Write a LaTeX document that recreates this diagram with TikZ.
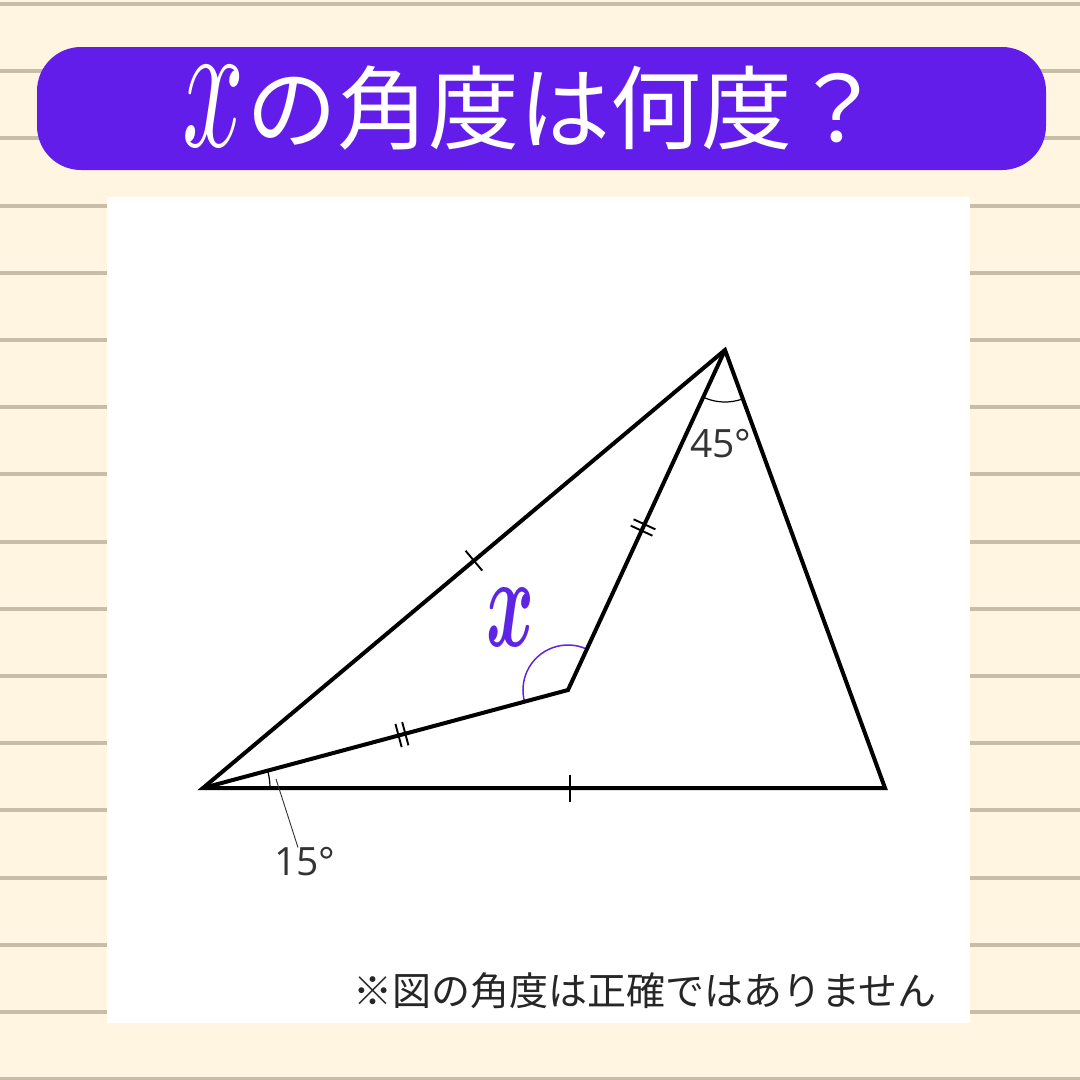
\documentclass[tikz,border=0pt]{standalone}
\usepackage{fontspec}
\setmainfont{Open Sans}
\newfontfamily\jpfont{Noto Sans CJK JP}
\usetikzlibrary{calc}
\definecolor{cream}{HTML}{FFF5E1}
\definecolor{ruleline}{HTML}{C8BEA8}
\definecolor{banner}{HTML}{621DEB}
\definecolor{xpurple}{HTML}{5F25E4}
\tikzset{
  tri/.style={line width=4pt, line join=miter, black},
  tickmark/.style={line width=1.9pt, black},
  anglearc/.style={line width=1.2pt, black},
  xarc/.style={line width=1.5pt, xpurple},
  deglabel/.style={inner sep=0pt, font=\fontsize{39}{39}\selectfont, text=black!80},
}
\begin{document}
\begin{tikzpicture}[x=1pt,y=-1pt]
\useasboundingbox (0,0) rectangle (1080,1080);
% background
\fill[cream] (0,0) rectangle (1080,1080);
\foreach \i in {0,...,16} {
  \fill[ruleline] (0,{4+67.2*\i-2}) rectangle (1080,{4+67.2*\i+2});
}
% title banner
\fill[banner, rounded corners=44pt] (37,47) rectangle (1046,170);
\node[text=white, inner sep=0pt] (title) at (533,108)
  {\raisebox{-4pt}{\resizebox{62pt}{80pt}{$x$}}\hspace{2pt}{\jpfont\fontsize{91}{92}\selectfont の角度は何度？}};
% white panel
\fill[white] (107,197) rectangle (970,1023);
% points
\coordinate (A) at (203,788);
\coordinate (B) at (885,788);
\coordinate (C) at (725,350);
\coordinate (D) at (568,690);
% angle arcs
\draw[anglearc] ([shift={(0:67)}]A) arc[start angle=0, end angle=-15, radius=67];
\draw[anglearc] ($(C)!52pt!(D)$) arc[start angle=114.8, end angle=70.1, radius=52];
\draw[xarc] ($(D)!45pt!(C)$) arc[start angle=-65.2, end angle=-195, radius=45];
% triangle
\draw[tri] (A) -- (B) -- (C) -- cycle;
\draw[tri] (A) -- (D) -- (C);
% single ticks
\coordinate (t1) at ($(A)!0.519!(C)$);
\draw[tickmark] ($(t1)!13pt!90:(C)$) -- ($(t1)!13pt!-90:(C)$);
\coordinate (t2) at ($(A)!0.538!(B)$);
\draw[tickmark] ($(t2)!13.5pt!90:(B)$) -- ($(t2)!13.5pt!-90:(B)$);
% double ticks
\coordinate (t3) at ($(A)!0.545!(D)$);
\coordinate (t3a) at ($(t3)!3.5pt!(A)$);
\coordinate (t3b) at ($(t3)!3.5pt!(D)$);
\draw[tickmark] ($(t3a)!12pt!90:(D)$) -- ($(t3a)!12pt!-90:(D)$);
\draw[tickmark] ($(t3b)!12pt!90:(D)$) -- ($(t3b)!12pt!-90:(D)$);
\coordinate (t4) at ($(D)!0.478!(C)$);
\coordinate (t4a) at ($(t4)!3.5pt!(D)$);
\coordinate (t4b) at ($(t4)!3.5pt!(C)$);
\draw[tickmark] ($(t4a)!12pt!90:(C)$) -- ($(t4a)!12pt!-90:(C)$);
\draw[tickmark] ($(t4b)!12pt!90:(C)$) -- ($(t4b)!12pt!-90:(C)$);
% labels
\node[deglabel] (l45) at (721,444) {45°};
\node[deglabel] (l15) at (305,862) {15°};
\coordinate (lead) at (276,779);
\draw[line width=0.9pt, black!80] (lead) -- (l15.north -| 298,837);
\node[text=xpurple, inner sep=0pt] (xlab) at (510,617) {\resizebox{48pt}{58pt}{\boldmath$x$}};
% note
\node[inner sep=0pt, text=black!85] (note) at (645,991)
  {\jpfont\fontsize{39}{39}\selectfont ※図の角度は正確ではありません};
\end{tikzpicture}
\end{document}
